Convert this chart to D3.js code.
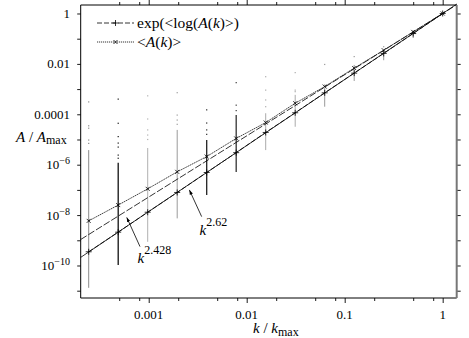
<!DOCTYPE html>
<html>
<head>
<meta charset="utf-8">
<script src="https://cdn.jsdelivr.net/npm/d3@7"></script>
<style>
  body { margin: 0; background: #fff; }
  text { font-family: "Liberation Serif", "DejaVu Serif", serif; fill: #000; }
</style>
</head>
<body>
<script>
// k / kmax sample points (powers of two)
var kValues = [1/4096, 1/2048, 1/1024, 1/512, 1/256, 1/128, 1/64, 1/32, 1/16, 1/8, 1/4, 1/2, 1];

// exp(<log A(k)>)
var geoMean = [3.5e-10, 2.1e-9, 1.3e-8, 7.9e-8, 4.9e-7, 3.0e-6, 1.9e-5, 1.15e-4, 7.1e-4, 4.3e-3, 0.026, 0.16, 1];

// <A(k)>
var arithMean = [5.9e-9, 2.5e-8, 1.1e-7, 5.2e-7, 2.1e-6, 1.1e-5, 4.7e-5, 2.75e-4, 1.26e-3, 6.8e-3, 0.035, 0.186, 1];

// vertical spread of individual samples at each k
var spreadHigh = [3.8e-6, 1.2e-6, 4.6e-6, 2.4e-5, 9.5e-6, 9.3e-5, 1.1e-4, 5.9e-4, 1.1e-3, 9.1e-3, 0.035, 0.155, 1];
var spreadLow  = [1.3e-11, 1.05e-10, 8.7e-10, 7.4e-9, 6.3e-8, 5.1e-7, 3.8e-6, 3.2e-5, 2.0e-4, 2.1e-3, 0.014, 0.107, 1];

// sparse single samples above the dense part
var outliers = [
  [3.1e-4, 3.5e-5, 2.8e-5, 9.5e-6, 7e-6],
  [4e-4, 4.4e-5, 1.3e-5, 7.2e-6, 5e-6, 2.4e-6, 1.8e-6],
  [5.4e-4, 6.5e-5, 2.4e-5, 1.5e-5, 1e-5],
  [7.2e-4, 9.3e-5, 5.9e-5, 4e-5],
  [1.5e-4, 4.5e-5, 2.4e-5, 1.6e-5],
  [1.8e-3, 2.3e-4, 1.4e-4],
  [3.1e-3, 9.1e-4, 3.7e-4, 2e-4],
  [4.5e-3, 9.1e-4, 7.9e-4],
  [9.5e-3, 1.45e-3],
  [0.0195],
  [0.048],
  [],
  []
];

// shade of each spread bar
var spreadShade = ["#8a8a8a", "#111", "#b0b0b0", "#9a9a9a", "#222", "#333", "#aaa", "#aaa", "#999", "#999", "#999", "#888", "#888"];

// power-law fits A ~ k^p
var fitExponents = [2.428, 2.62];

var xTicks = [5e-4, 8e-4, 1e-3, 2e-3, 5e-3, 8e-3, 0.01, 0.02, 0.05, 0.08, 0.1, 0.2, 0.5, 0.8, 1];
var xLabels = [1e-3, 1e-2, 0.1, 1];
var yTicks = [1e-11, 1e-10, 1e-9, 1e-8, 1e-7, 1e-6, 1e-5, 1e-4, 1e-3, 1e-2, 0.1, 1];
var yLabelValues = [1, 0.01, 0.0001, 1e-6, 1e-8, 1e-10];
var yLabelText = [["1"], ["0.01"], ["0.0001"], ["10", "−6"], ["10", "−8"], ["10", "−10"]];

window.onload = function() { draw(); };

function draw() {
  var W = 469, H = 338;
  var left = 80.7, right = 456.7, top = 5, bottom = 298;

  var x = d3.scaleLog().domain([Math.pow(10, -3.694), Math.pow(10, 0.143)]).range([left, right]);
  var y = d3.scaleLog().domain([Math.pow(10, -11.29), Math.pow(10, 0.337)]).range([bottom, top]);

  var svg = d3.select("body").append("svg")
      .attr("width", W)
      .attr("height", H);

  svg.append("rect").attr("width", W).attr("height", H).attr("fill", "#fff");

  var plot = svg.append("g");

  // spread bars
  plot.selectAll(".spread")
      .data(kValues)
      .enter().append("line")
      .attr("class", "spread")
      .attr("x1", function(d) { return x(d); })
      .attr("x2", function(d) { return x(d); })
      .attr("y1", function(d, i) { return y(spreadHigh[i]); })
      .attr("y2", function(d, i) { return y(spreadLow[i]); })
      .attr("stroke", function(d, i) { return spreadShade[i]; })
      .attr("stroke-width", function(d, i) { return spreadShade[i] < "#5" ? 1.3 : 1; });

  // outlier dots
  var dots = [];
  outliers.forEach(function(list, i) {
    list.forEach(function(v) { dots.push({k: kValues[i], a: v, i: i}); });
  });
  plot.selectAll(".dot")
      .data(dots)
      .enter().append("rect")
      .attr("class", "dot")
      .attr("x", function(d) { return x(d.k) - 0.6; })
      .attr("y", function(d) { return y(d.a) - 0.6; })
      .attr("width", 1.2)
      .attr("height", 1.2)
      .attr("fill", function(d) { return spreadShade[d.i]; });

  // fit lines across the full range
  var xd = x.domain();
  fitExponents.forEach(function(p, j) {
    plot.append("line")
        .attr("x1", x(xd[0])).attr("y1", y(Math.pow(xd[0], p)))
        .attr("x2", x(xd[1])).attr("y2", y(Math.pow(xd[1], p)))
        .attr("stroke", "#000")
        .attr("stroke-width", 0.8)
        .attr("stroke-dasharray", j == 0 ? "7,2" : null);
  });

  var line = d3.line()
      .x(function(d) { return x(d[0]); })
      .y(function(d) { return y(d[1]); });

  var geoPts = kValues.map(function(k, i) { return [k, geoMean[i]]; });
  var meanPts = kValues.map(function(k, i) { return [k, arithMean[i]]; });

  plot.append("path").datum(geoPts)
      .attr("d", line).attr("fill", "none")
      .attr("stroke", "#000").attr("stroke-width", 0.8).attr("stroke-dasharray", "5,2");

  plot.append("path").datum(meanPts)
      .attr("d", line).attr("fill", "none")
      .attr("stroke", "#111").attr("stroke-width", 0.8).attr("stroke-dasharray", "1.5,0.6");

  // markers
  function plus(g, cx, cy, s) {
    g.append("path").attr("d", "M" + (cx - s) + "," + cy + "H" + (cx + s) + "M" + cx + "," + (cy - s) + "V" + (cy + s))
        .attr("stroke", "#000").attr("stroke-width", 0.8);
  }
  function cross(g, cx, cy, s) {
    g.append("path").attr("d", "M" + (cx - s) + "," + (cy - s) + "L" + (cx + s) + "," + (cy + s) + "M" + (cx - s) + "," + (cy + s) + "L" + (cx + s) + "," + (cy - s))
        .attr("stroke", "#000").attr("stroke-width", 0.8);
  }
  geoPts.forEach(function(d) { plus(plot, x(d[0]), y(d[1]), 3); });
  meanPts.forEach(function(d) { cross(plot, x(d[0]), y(d[1]), 2); });

  // axes
  var xMajor = function(d) { return xLabels.indexOf(d) >= 0; };
  var bottomAxis = svg.append("g").attr("transform", "translate(0," + bottom + ")")
      .call(d3.axisBottom(x).tickValues(xTicks).tickFormat("").tickSizeOuter(0));
  var topAxis = svg.append("g").attr("transform", "translate(0," + top + ")")
      .call(d3.axisTop(x).tickValues(xTicks).tickFormat("").tickSizeOuter(0));
  [bottomAxis, topAxis].forEach(function(a) {
    a.selectAll(".tick line").attr("y2", function(d) {
      var s = xMajor(d) ? 5 : 3;
      return a === bottomAxis ? s : -s;
    });
  });
  svg.append("g").attr("transform", "translate(" + left + ",0)")
      .call(d3.axisLeft(y).tickValues(yTicks).tickFormat("").tickSize(3.5).tickSizeOuter(0));
  svg.append("g").attr("transform", "translate(" + right + ",0)")
      .call(d3.axisRight(y).tickValues(yTicks).tickFormat("").tickSize(4).tickSizeOuter(0));
  svg.selectAll(".domain").remove();
  svg.selectAll(".tick line").attr("stroke", "#000").attr("stroke-width", 0.9);

  // frame
  svg.append("path")
      .attr("d", "M" + right + "," + top + "H" + left + "V" + bottom + "H" + right)
      .attr("fill", "none").attr("stroke", "#000").attr("stroke-width", 1);
  svg.append("line")
      .attr("x1", right).attr("x2", right).attr("y1", top).attr("y2", bottom)
      .attr("stroke", "#777").attr("stroke-width", 2);

  // tick labels
  svg.selectAll(".xlab")
      .data(xLabels)
      .enter().append("text")
      .attr("class", "xlab")
      .attr("x", function(d) { return x(d); })
      .attr("y", 319)
      .attr("text-anchor", "middle")
      .style("font-size", "13px")
      .text(function(d) { return d == 1 ? "1" : String(d); });

  yLabelValues.forEach(function(v, i) {
    var t = svg.append("text")
        .attr("x", 70)
        .attr("y", y(v))
        .attr("dy", "0.35em")
        .attr("text-anchor", "end")
        .style("font-size", "13px");
    t.append("tspan").text(yLabelText[i][0]);
    if (yLabelText[i].length > 1) {
      t.append("tspan").attr("dy", "-0.5em").style("font-size", "10px").text(yLabelText[i][1]);
    }
  });

  // axis titles
  var yt = svg.append("text").attr("x", 16).attr("y", 142).style("font-size", "15px");
  yt.append("tspan").style("font-style", "italic").text("A");
  yt.append("tspan").text(" / ");
  yt.append("tspan").style("font-style", "italic").text("A");
  yt.append("tspan").attr("dy", 2).style("font-size", "12px").text("max");

  var xt = svg.append("text").attr("x", 253).attr("y", 333).style("font-size", "15px");
  xt.append("tspan").style("font-style", "italic").text("k");
  xt.append("tspan").text(" / ");
  xt.append("tspan").style("font-style", "italic").text("k");
  xt.append("tspan").attr("dy", 3).style("font-size", "12px").text("max");

  // annotations, anchored in data units
  var notes = [
    {p: "2.428", tip: [5.97e-4, 8.1e-9], tail: [8.15e-4, 5.6e-10], label: [7.7e-4, 1.3e-10]},
    {p: "2.62", tip: [2.6e-3, 1e-7], tail: [3.47e-3, 8.7e-9], label: [3.3e-3, 1.6e-9]}
  ];
  svg.append("defs").append("marker")
      .attr("id", "arrow").attr("viewBox", "0 0 10 10")
      .attr("refX", 10).attr("refY", 5)
      .attr("markerWidth", 6).attr("markerHeight", 6)
      .attr("orient", "auto")
      .append("path").attr("d", "M0,1.5L10,5L0,8.5Z").attr("fill", "#000");
  notes.forEach(function(n) {
    svg.append("line")
        .attr("x1", x(n.tail[0])).attr("y1", y(n.tail[1]))
        .attr("x2", x(n.tip[0])).attr("y2", y(n.tip[1]))
        .attr("stroke", "#000").attr("stroke-width", 0.8)
        .attr("marker-end", "url(#arrow)");
    var t = svg.append("text")
        .attr("x", x(n.label[0])).attr("y", y(n.label[1]))
        .style("font-size", "15px");
    t.append("tspan").style("font-style", "italic").text("k");
    t.append("tspan").attr("dy", -9).style("font-size", "12px").text(n.p);
  });

  // legend
  var legend = svg.append("g");
  var rows = [
    {y: 23, dash: "5,2", mark: plus},
    {y: 42, dash: "1.2,0.8", mark: cross}
  ];
  rows.forEach(function(r, i) {
    legend.append("line").attr("x1", 97).attr("x2", 134).attr("y1", r.y).attr("y2", r.y)
        .attr("stroke", "#000").attr("stroke-width", 0.8).attr("stroke-dasharray", r.dash);
    r.mark(legend, 115.5, r.y, i == 0 ? 3 : 2);
  });
  var l1 = legend.append("text").attr("x", 137).attr("y", 28).style("font-size", "15.5px");
  l1.append("tspan").text("exp(<log(");
  l1.append("tspan").style("font-style", "italic").text("A");
  l1.append("tspan").text("(");
  l1.append("tspan").style("font-style", "italic").text("k");
  l1.append("tspan").text(")>)");
  var l2 = legend.append("text").attr("x", 137).attr("y", 47).style("font-size", "15.5px");
  l2.append("tspan").text("<");
  l2.append("tspan").style("font-style", "italic").text("A");
  l2.append("tspan").text("(");
  l2.append("tspan").style("font-style", "italic").text("k");
  l2.append("tspan").text(")>");
}
</script>
</body>
</html>
